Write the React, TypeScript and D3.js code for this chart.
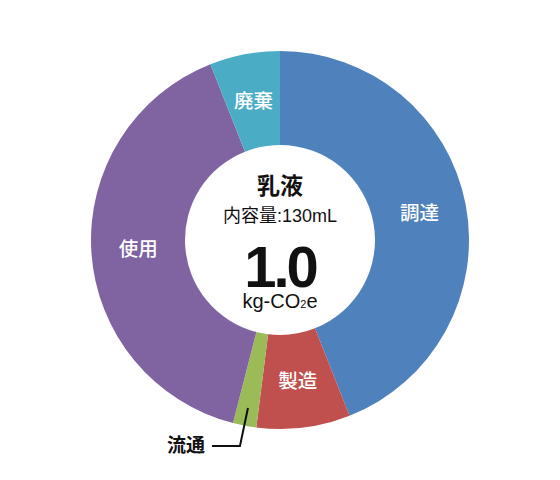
import React from 'react';
import * as d3 from 'd3';

const WIDTH = 560;
const HEIGHT = 480;
const CENTER = { x: 280, y: 240 };
const OUTER_R = 189;
const INNER_R = 95;

const categories = ['調達', '製造', '流通', '使用', '廃棄'];
const values = [0.44, 0.08, 0.02, 0.4, 0.06];
const colors = ['#4F81BD', '#C0504D', '#9BBB59', '#8064A2', '#4BACC6'];
// slices too thin for an inside label get a leader line
const outsideLabels = ['流通'];

const productName = '乳液';
const productVolume = '内容量:130mL';
const totalLabel = '1.0';

const JP_FONT = '"Liberation Sans", "Noto Sans CJK JP", sans-serif';

export default function App() {
  const data = categories.map((c, i) => ({ name: c, value: values[i], color: colors[i] }));

  const pie = d3
    .pie<{ name: string; value: number; color: string }>()
    .sort(null)
    .value((d) => d.value);
  const arcs = pie(data);

  const arc = d3
    .arc<d3.PieArcDatum<{ name: string; value: number; color: string }>>()
    .innerRadius(INNER_R)
    .outerRadius(OUTER_R);

  const leaderArc = d3
    .arc<d3.PieArcDatum<{ name: string; value: number; color: string }>>()
    .innerRadius(OUTER_R - 18)
    .outerRadius(OUTER_R - 18);

  const slices = arcs.map((a, i) => (
    <path key={i} d={arc(a) || ''} fill={a.data.color} />
  ));

  const labels = arcs.map((a, i) => {
    if (outsideLabels.includes(a.data.name)) {
      const [sx, sy] = leaderArc.centroid(a);
      const ex = sx - 8;
      const ey = sy + 38;
      const hx = ex - 28;
      return (
        <g key={i}>
          <polyline
            points={`${sx},${sy} ${ex},${ey} ${hx},${ey}`}
            fill="none"
            stroke="#111"
            strokeWidth={2}
          />
          <text
            x={hx - 7}
            y={ey}
            textAnchor="end"
            dominantBaseline="central"
            fontSize={19}
            fontWeight={700}
            fill="#111"
            fontFamily={JP_FONT}
          >
            {a.data.name}
          </text>
        </g>
      );
    }
    const [cx, cy] = arc.centroid(a);
    return (
      <text
        key={i}
        x={cx}
        y={cy}
        textAnchor="middle"
        dominantBaseline="central"
        fontSize={19.5}
        fontWeight={500}
        fill="#fff"
        fontFamily={JP_FONT}
      >
        {a.data.name}
      </text>
    );
  });

  return (
    <svg
      width={WIDTH}
      height={HEIGHT}
      style={{ position: 'absolute', left: 0, top: 0, background: '#fff' }}
    >
      <g transform={`translate(${CENTER.x},${CENTER.y})`}>
        {slices}
        {labels}
        <text
          x={0}
          y={-54}
          textAnchor="middle"
          dominantBaseline="central"
          fontSize={23}
          fontWeight={700}
          fill="#111"
          fontFamily={JP_FONT}
        >
          {productName}
        </text>
        <text
          x={0}
          y={-24}
          textAnchor="middle"
          dominantBaseline="central"
          fontSize={18}
          fill="#111"
          fontFamily={JP_FONT}
        >
          {productVolume}
        </text>
        <text
          x={0}
          y={47}
          textAnchor="middle"
          fontSize={58}
          fontWeight={700}
          letterSpacing={-3}
          fill="#111"
          fontFamily={JP_FONT}
        >
          {totalLabel}
        </text>
        <text
          x={0}
          y={68}
          textAnchor="middle"
          fontSize={20}
          fill="#111"
          fontFamily={JP_FONT}
        >
          kg-CO
          <tspan fontSize={11}>2</tspan>
          e
        </text>
      </g>
    </svg>
  );
}
